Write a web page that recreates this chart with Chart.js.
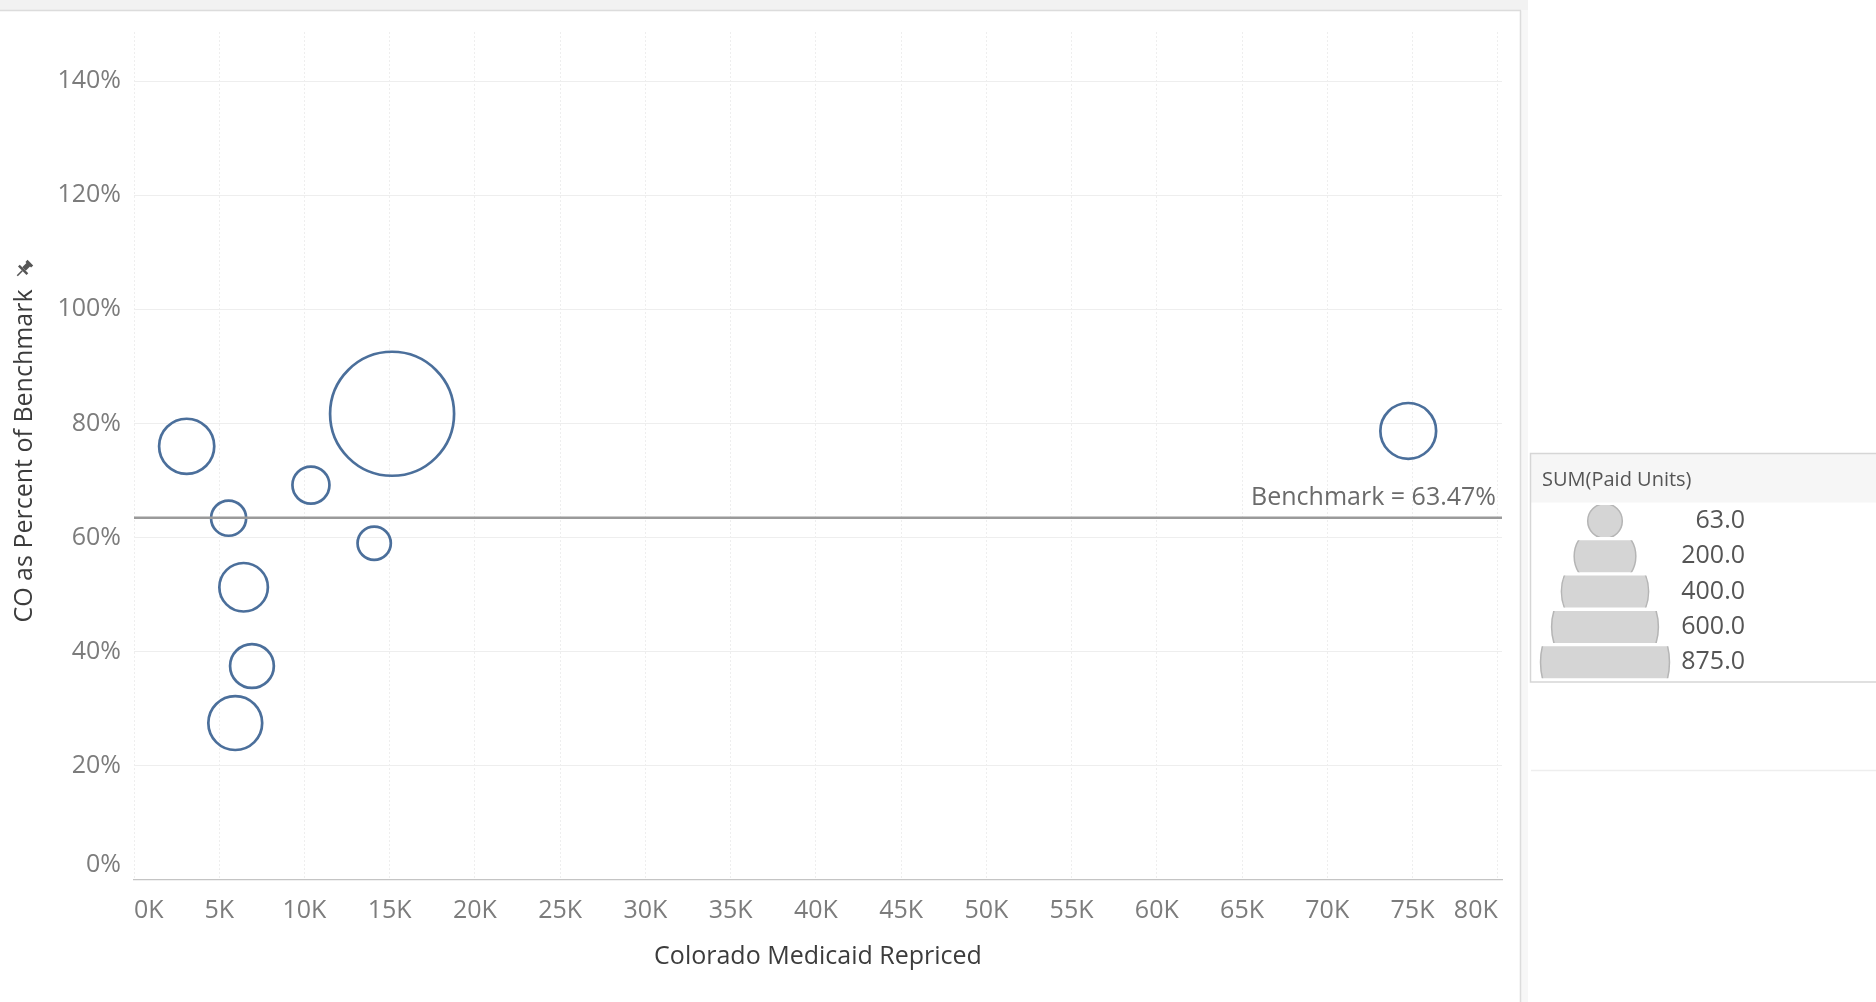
<!DOCTYPE html>
<html><head><meta charset="utf-8">
<script src="https://cdn.jsdelivr.net/npm/chart.js@4.4.0/dist/chart.umd.min.js"></script>
<style>html,body{margin:0;padding:0;background:#fff;overflow:hidden}canvas{display:block}</style>
</head><body>
<canvas id="c" width="1876" height="1002"></canvas>
<script>
// ---- data ----
const repriced = [3090, 5550, 6430, 6920, 5940, 10380, 14090, 15140, 74750];
const pctOfBenchmark = [76.0, 63.4, 51.3, 37.5, 27.5, 69.2, 59.0, 81.7, 78.7];
const paidUnits = [173, 70, 134, 109, 165, 78, 63, 875, 177];
const benchmark = 63.47;
const legendValues = [63, 200, 400, 600, 875];
const xTickValues = [0, 5000, 10000, 15000, 20000, 25000, 30000, 35000, 40000, 45000, 50000, 55000, 60000, 65000, 70000, 75000, 80000];
const yTickValues = [0, 20, 40, 60, 80, 100, 120, 140];
const xTitle = 'Colorado Medicaid Repriced';
const yTitle = 'CO as Percent of Benchmark';
const legendTitle = 'SUM(Paid Units)';

// ---- styles ----
const FONT = '"Open Sans", sans-serif';
const MAX_R = 62;
const maxUnits = Math.max(...paidUnits);
const radiusFor = v => MAX_R * Math.sqrt(v / maxUnits);

const decor = {
  id: 'decor',
  beforeDraw(chart) {
    const ctx = chart.ctx;
    ctx.save();
    ctx.fillStyle = '#fff';
    ctx.fillRect(0, 0, chart.width, chart.height);
    ctx.fillStyle = '#f2f2f2';
    ctx.fillRect(0, 0, 1528, 10);
    ctx.fillStyle = '#f7f7f7';
    ctx.fillRect(1521, 10, 7, 992);
    ctx.strokeStyle = '#dcdcdc';
    ctx.lineWidth = 1.5;
    ctx.beginPath();
    ctx.moveTo(0, 10.5); ctx.lineTo(1521, 10.5);
    ctx.moveTo(1520.5, 10.5); ctx.lineTo(1520.5, 1002);
    ctx.stroke();
    ctx.restore();
  },
  afterDatasetsDraw(chart) {
    const ctx = chart.ctx, ca = chart.chartArea;
    const y = chart.scales.y.getPixelForValue(benchmark);
    ctx.save();
    ctx.strokeStyle = '#9a9a9a';
    ctx.lineWidth = 2.5;
    ctx.beginPath();
    ctx.moveTo(ca.left, y); ctx.lineTo(ca.right, y);
    ctx.stroke();
    ctx.fillStyle = '#6b6b6b';
    ctx.font = '25px ' + FONT;
    ctx.textAlign = 'right';
    ctx.textBaseline = 'middle';
    ctx.fillText('Benchmark = ' + benchmark.toFixed(2) + '%', ca.right - 6, y - 20);
    ctx.restore();
  },
  afterDraw(chart) {
    const ctx = chart.ctx;
    ctx.save();
    // pin icon beside y title
    ctx.translate(24, 269);
    ctx.rotate(Math.PI / 4);
    ctx.fillStyle = '#555';
    ctx.fillRect(-4, -9, 8, 3);
    ctx.fillRect(-2.5, -7, 5, 7);
    ctx.fillRect(-6, 0, 12, 2.5);
    ctx.fillRect(-0.8, 2.5, 1.6, 7);
    ctx.restore();

    // size legend
    ctx.save();
    const bx = 1530.5, by = 453.5, bh = 228.5;
    ctx.fillStyle = '#f6f6f6';
    ctx.fillRect(bx, by, 400, 49);
    ctx.strokeStyle = '#d6d6d6';
    ctx.lineWidth = 1.5;
    ctx.strokeRect(bx, by, 400, bh);
    ctx.strokeStyle = '#eeeeee';
    ctx.beginPath(); ctx.moveTo(1531, 770.5); ctx.lineTo(1876, 770.5); ctx.stroke();
    ctx.fillStyle = '#555';
    ctx.font = '20px ' + FONT;
    ctx.textAlign = 'left';
    ctx.textBaseline = 'middle';
    ctx.fillText(legendTitle, 1542, 480);
    legendValues.forEach((v, i) => {
      const yc = 521 + i * 35.3;
      ctx.save();
      ctx.beginPath();
      ctx.rect(1532, yc - 16, 300, 32);
      ctx.clip();
      ctx.beginPath();
      ctx.arc(1605, yc, radiusFor(v) * 1.04, 0, Math.PI * 2);
      ctx.fillStyle = '#d5d5d5';
      ctx.fill();
      ctx.strokeStyle = '#b5b5b5';
      ctx.lineWidth = 1.5;
      ctx.stroke();
      ctx.restore();
      ctx.fillStyle = '#555';
      ctx.font = '25px ' + FONT;
      ctx.textAlign = 'right';
      ctx.textBaseline = 'middle';
      ctx.fillText(v.toFixed(1), 1745, yc);
    });
    ctx.restore();
  }
};

new Chart(document.getElementById('c'), {
  type: 'bubble',
  data: {
    datasets: [{
      data: repriced.map((x, i) => ({ x: x, y: pctOfBenchmark[i], r: radiusFor(paidUnits[i]) })),
      backgroundColor: 'rgba(0,0,0,0)',
      borderColor: '#4b6f9b',
      borderWidth: 2.7,
      hoverBorderWidth: 2.7,
      clip: false
    }]
  },
  options: {
    responsive: false,
    animation: false,
    events: [],
    layout: { autoPadding: false, padding: { top: 32, right: 374, left: 0, bottom: 0 } },
    plugins: { legend: { display: false }, tooltip: { enabled: false } },
    scales: {
      x: {
        type: 'linear', min: 0, max: 80250,
        afterBuildTicks: s => { s.ticks = xTickValues.map(v => ({ value: v })); },
        ticks: {
          align: 'inner', autoSkip: false, maxRotation: 0,
          padding: 16, color: '#7c7c7c', font: { family: FONT, size: 25 },
          callback: v => (v / 1000) + 'K'
        },
        grid: { color: '#eeeeee', lineWidth: 1, drawTicks: false },
        border: { display: true, color: '#c4c4c4', dash: [2, 2], width: 1.2 },
        title: { display: true, text: xTitle, color: '#3c3c3c', font: { family: FONT, size: 25 }, padding: { top: 4, bottom: 30 } },
        afterFit: s => { s.height = 122; s.paddingLeft = 0; s.paddingRight = 0; }
      },
      y: {
        type: 'linear', min: 0, max: 148.6,
        afterBuildTicks: s => { s.ticks = yTickValues.map(v => ({ value: v })); },
        ticks: {
          padding: 13, color: '#7c7c7c',
          font: { family: FONT, size: 25 },
          callback: v => v === 0 ? ['0%', ''] : v + '%'
        },
        grid: { color: c => (c.tick && c.tick.value === 0) ? 'rgba(0,0,0,0)' : '#eeeeee', lineWidth: 1, drawTicks: false },
        border: { display: false },
        title: { display: true, text: yTitle, color: '#3c3c3c', font: { family: FONT, size: 25 }, padding: { top: 10, bottom: 0 } },
        afterFit: s => { s.width = 134; s.paddingTop = 0; s.paddingBottom = 0; }
      }
    }
  },
  plugins: [decor]
});
</script>
</body></html>
